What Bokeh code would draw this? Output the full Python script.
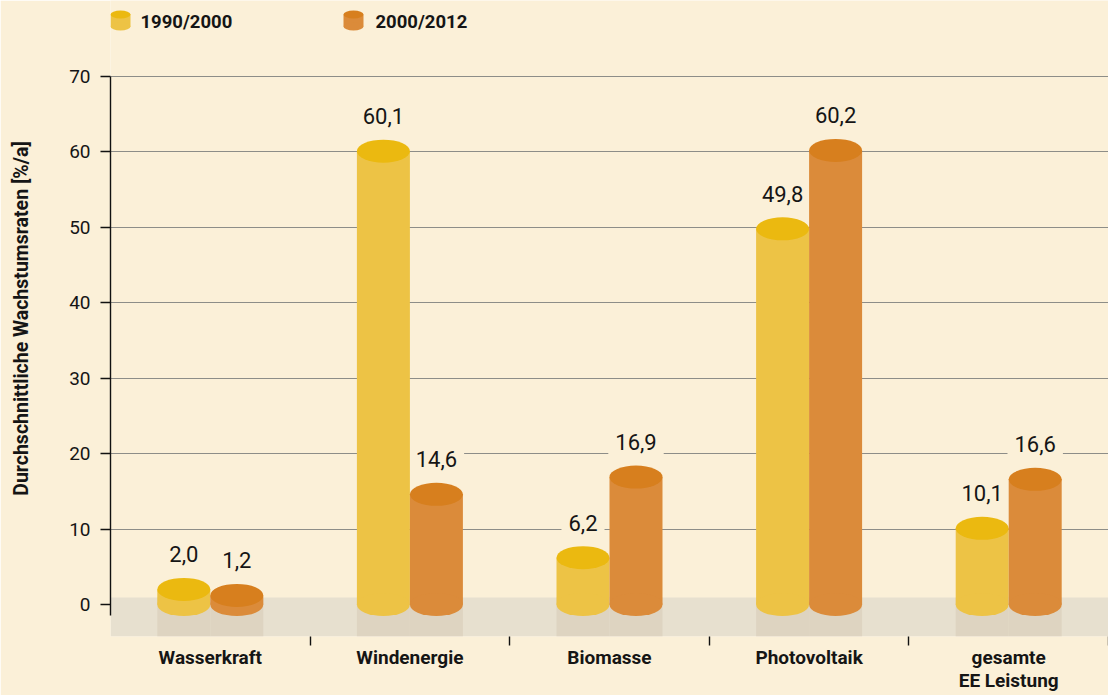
from bokeh.plotting import figure
from bokeh.models import Range1d, FixedTicker, ColumnDataSource
from bokeh.embed import file_html
from bokeh.resources import INLINE
from bokeh.core.properties import value

# ---------------- data ----------------
categories = ["Wasserkraft", "Windenergie", "Biomasse", "Photovoltaik", "gesamte\nEE Leistung"]
series_names = ["1990/2000", "2000/2012"]
values_1990_2000 = [2.0, 60.1, 6.2, 49.8, 10.1]
values_2000_2012 = [1.2, 14.6, 16.9, 60.2, 16.6]
y_ticks = [0, 10, 20, 30, 40, 50, 60, 70]
y_axis_title = "Durchschnittliche Wachstumsraten [%/a]"

# ---------------- style ----------------
BG = "#fbf0d8"
BAND = "#e7e0cf"
SHADOW = "#ded4c1"
YEL_TOP, YEL_BODY = "#ebb910", "#edc345"
ORA_TOP, ORA_BODY = "#d77f1e", "#db8b3a"
GRID = "#8d8d88"
TXT = "#151515"
NUM_FONT = "Roboto"
LAB_FONT = "Roboto"

FRAME_W, FRAME_H = 998, 636
PX_X = FRAME_W / len(categories)     # px per category
PX_Y = 528 / 70.0                    # px per unit
Y0 = -32 / PX_Y
Y1 = Y0 + FRAME_H / PX_Y
BAR_W = 53 / PX_X
ELL_H = 23 / PX_Y
BAND_TOP = 7 / PX_Y


def fmt(v):
    return f"{v:.1f}".replace(".", ",")


def lx(px):  # layout helper: frame px -> data x
    return px / PX_X


def ly(px_from_top):  # layout helper: frame px from top -> data y
    return Y1 - px_from_top / PX_Y


p = figure(width=1108, height=695, x_range=Range1d(0, len(categories)),
           y_range=Range1d(Y0, Y1), output_backend="svg", toolbar_location=None,
           min_border_left=110, min_border_right=0, min_border_top=0,
           min_border_bottom=59)
p.background_fill_color = BG
p.border_fill_color = BG
p.outline_line_color = None

# grid
p.xgrid.visible = False
p.ygrid.ticker = FixedTicker(ticks=y_ticks)
p.ygrid.grid_line_color = GRID
p.ygrid.grid_line_width = 1.2

# y axis
ya = p.yaxis[0]
ya.ticker = FixedTicker(ticks=y_ticks)
ya.bounds = (-1.5, 70)
ya.axis_line_color = "#111111"
ya.axis_line_width = 1.4
ya.major_tick_line_color = "#111111"
ya.major_tick_line_width = 1.4
ya.major_tick_out = 10
ya.major_tick_in = 0
ya.minor_tick_line_color = None
ya.major_label_standoff = 10
ya.major_label_text_font = NUM_FONT
ya.major_label_text_font_size = "19px"
ya.major_label_text_color = TXT
ya.axis_label = y_axis_title
ya.axis_label_text_font = LAB_FONT
ya.axis_label_text_font_style = "bold"
ya.axis_label_text_font_size = "19.5px"
ya.axis_label_text_color = TXT
ya.axis_label_standoff = 33

# x axis (categories + separator ticks)
centers = [i + 0.5 for i in range(len(categories))]
xa = p.xaxis[0]
xa.ticker = FixedTicker(ticks=centers, minor_ticks=[i + 1 for i in range(len(categories))])
xa.major_label_overrides = {c: lab for c, lab in zip(centers, categories)}
xa.axis_line_color = None
xa.major_tick_line_color = None
xa.major_tick_out = 0
xa.major_tick_in = 0
xa.minor_tick_line_color = "#111111"
xa.minor_tick_line_width = 1.4
xa.minor_tick_out = 9
xa.minor_tick_in = 0
xa.major_label_standoff = 0
xa.major_label_text_font = LAB_FONT
xa.major_label_text_font_style = "bold"
xa.major_label_text_font_size = "19px"
xa.major_label_text_line_height = 1.04
xa.major_label_text_color = TXT

# floor band
p.quad(left=[0], right=[len(categories)], bottom=[Y0], top=[BAND_TOP],
       fill_color=BAND, line_color=None)

x_yel = [c - BAR_W / 2 for c in centers]
x_ora = [c + BAR_W / 2 for c in centers]
series = ((x_yel, values_1990_2000, YEL_TOP, YEL_BODY),
          (x_ora, values_2000_2012, ORA_TOP, ORA_BODY))
sources = [ColumnDataSource(dict(x=xs, top=vals, zero=[0] * len(xs),
                                 label=[fmt(v) for v in vals]))
           for xs, vals, _, _ in series]

# value labels first (their background hides the gridlines, bars drawn over them)
for src in sources:
    p.text(x="x", y="top", text="label", source=src, y_offset=-35,
           text_align="center", text_baseline="alphabetic",
           text_font=value(NUM_FONT), text_font_size="22px", text_color=TXT,
           background_fill_color=BG, padding=7)

for src, (_, _, top_c, body_c) in zip(sources, series):
    p.vbar(x="x", width=BAR_W, bottom=Y0, top=BAND_TOP, source=src,
           fill_color=SHADOW, line_color=None)
    p.vbar(x="x", width=BAR_W, bottom="zero", top="top", source=src,
           fill_color=body_c, line_color=None)
    p.ellipse(x="x", y="zero", width=BAR_W, height=ELL_H, source=src,
              fill_color=body_c, line_color=None)
    p.ellipse(x="x", y="top", width=BAR_W, height=ELL_H, source=src,
              fill_color=top_c, line_color=None)

# legend (small cylinders + labels)
leg_specs = [(series_names[0], 10, 30, YEL_TOP, YEL_BODY),
             (series_names[1], 243, 265, ORA_TOP, ORA_BODY)]
for name, icon_cx, text_x, top_c, body_c in leg_specs:
    cx = lx(icon_cx)
    w = lx(20)
    p.vbar(x=[cx], width=w, bottom=[ly(26)], top=[ly(14)], fill_color=body_c, line_color=None)
    p.ellipse(x=[cx], y=[ly(26)], width=w, height=8 / PX_Y, fill_color=body_c, line_color=None)
    p.ellipse(x=[cx], y=[ly(14)], width=w, height=8 / PX_Y, fill_color=top_c, line_color=None)
    p.text(x=[lx(text_x)], y=[ly(21)], text=[name], text_align="left",
           text_baseline="middle", text_font=value(LAB_FONT), text_font_style="bold",
           text_font_size="18.5px", text_color=TXT)

open("out.html", "w").write(file_html(p, INLINE))
